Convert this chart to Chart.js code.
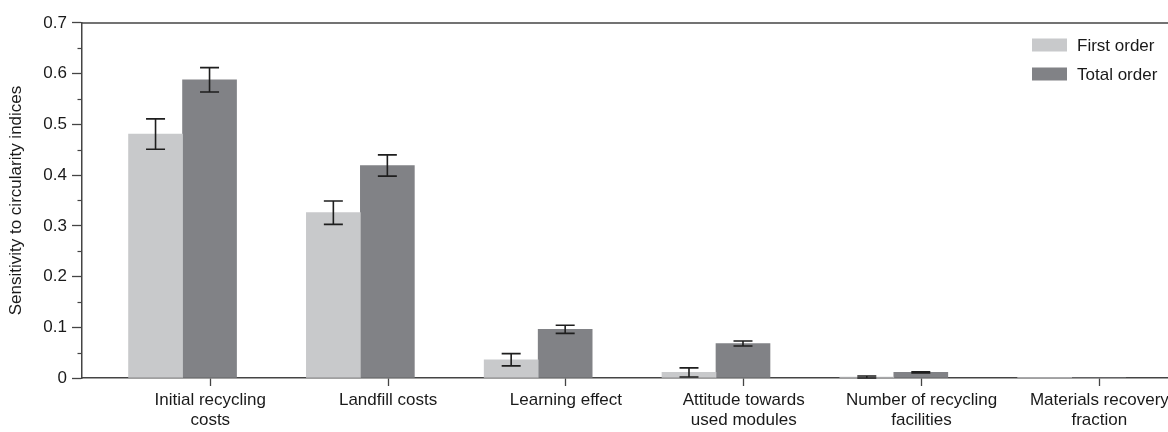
<!DOCTYPE html>
<html>
<head>
<meta charset="utf-8">
<script src="https://cdn.jsdelivr.net/npm/chart.js@4.4.1/dist/chart.umd.min.js"></script>
<style>
  html, body { margin: 0; padding: 0; background: #fff; }
  #wrap { width: 1168px; height: 432px; }
</style>
</head>
<body>
<div id="wrap"><canvas id="chart" width="1168" height="432"></canvas></div>
<script>
// Parameters (one per category)
const categories = [
  ["Initial recycling", "costs"],
  ["Landfill costs"],
  ["Learning effect"],
  ["Attitude towards", "used modules"],
  ["Number of recycling", "facilities"],
  ["Materials recovery", "fraction"]
];

// Sobol sensitivity indices with their uncertainty
const firstOrder     = [0.481, 0.326, 0.036, 0.011, 0.002, 0.0005];
const firstOrderErr  = [0.030, 0.023, 0.012, 0.009, 0.002, 0];
const totalOrder     = [0.588, 0.419, 0.096, 0.068, 0.011, 0.001];
const totalOrderErr  = [0.024, 0.021, 0.008, 0.005, 0.001, 0];

// Y axis labels (every 0.1, minor marks every 0.05)
const yTickLabels = ["0", "0.1", "0.2", "0.3", "0.4", "0.5", "0.6", "0.7"];

const seriesNames = ["First order", "Total order"];

const FONT = "'Liberation Sans', Arial, Helvetica, sans-serif";
const FONT_SIZE = 17;
const AXIS_COLOR = "#444";
const TEXT_COLOR = "#1a1a1a";
const LIGHT = "#c8c9cb";
const DARK = "#818286";
const GROUP_SHIFT = -0.156;   // bar pairs sit slightly left of their tick

const errorBars = {
  id: "errorBars",
  afterDatasetsDraw(chart) {
    const ctx = chart.ctx;
    const y = chart.scales.y;
    ctx.save();
    ctx.strokeStyle = "#1e1e1e";
    ctx.lineWidth = 1.6;
    chart.data.datasets.forEach((ds, di) => {
      const meta = chart.getDatasetMeta(di);
      meta.data.forEach((bar, i) => {
        const e = ds.errors[i];
        if (!e) return;
        const v = ds.data[i].y;
        const top = y.getPixelForValue(v + e);
        const bot = y.getPixelForValue(Math.max(v - e, 0));
        const half = 9.5;
        ctx.beginPath();
        ctx.moveTo(bar.x, top); ctx.lineTo(bar.x, bot);
        ctx.moveTo(bar.x - half, top); ctx.lineTo(bar.x + half, top);
        ctx.moveTo(bar.x - half, bot); ctx.lineTo(bar.x + half, bot);
        ctx.stroke();
      });
    });
    ctx.restore();
  }
};

const frameAndLegend = {
  id: "frameAndLegend",
  afterDraw(chart) {
    const ctx = chart.ctx;
    const area = chart.chartArea;
    const y = chart.scales.y;
    ctx.save();
    // top frame line
    ctx.strokeStyle = AXIS_COLOR;
    ctx.lineWidth = 1.5;
    ctx.beginPath();
    ctx.moveTo(area.left, area.top);
    ctx.lineTo(area.right, area.top);
    ctx.stroke();
    // minor y ticks
    ctx.lineWidth = 1.2;
    y.ticks.forEach(t => {
      const k = Math.round(t.value * 100);
      if (k % 10 !== 0) {
        const py = Math.round(y.getPixelForValue(t.value)) + 0.5;
        ctx.beginPath();
        ctx.moveTo(area.left - 4.5, py);
        ctx.lineTo(area.left, py);
        ctx.stroke();
      }
    });
    // legend
    ctx.font = FONT_SIZE + "px " + FONT;
    ctx.textBaseline = "middle";
    ctx.textAlign = "left";
    chart.data.datasets.forEach((ds, i) => {
      const cy = 45 + i * 29;
      ctx.fillStyle = ds.backgroundColor;
      ctx.fillRect(1032, cy - 6.5, 35, 13);
      ctx.fillStyle = TEXT_COLOR;
      ctx.fillText(ds.label, 1077, cy + 1);
    });
    ctx.restore();
  }
};

new Chart(document.getElementById("chart"), {
  type: "bar",
  data: {
    datasets: [
      {
        label: seriesNames[0],
        data: firstOrder.map((v, i) => ({ x: i + GROUP_SHIFT, y: v })),
        errors: firstOrderErr,
        backgroundColor: LIGHT,
        borderWidth: 0,
        barThickness: 54
      },
      {
        label: seriesNames[1],
        data: totalOrder.map((v, i) => ({ x: i + GROUP_SHIFT, y: v })),
        errors: totalOrderErr,
        backgroundColor: DARK,
        borderWidth: 0,
        barThickness: 54
      }
    ]
  },
  options: {
    responsive: false,
    animation: false,
    devicePixelRatio: 1,
    layout: { padding: { left: 0, right: 0, top: 23, bottom: 0 } },
    plugins: {
      legend: { display: false },
      tooltip: { enabled: false }
    },
    scales: {
      x: {
        type: "linear",
        offset: false,
        min: -0.7214,
        max: 5.386,
        afterBuildTicks(scale) {
          scale.ticks = categories.map((c, i) => ({ value: i }));
        },
        afterFit(scale) {
          scale.height = 54;
          scale.paddingLeft = 0;
          scale.paddingRight = 0;
        },
        border: { display: true, color: AXIS_COLOR, width: 1.5 },
        grid: {
          display: true,
          offset: false,
          drawOnChartArea: false,
          drawTicks: true,
          tickLength: 8,
          tickColor: AXIS_COLOR,
          tickWidth: 1.3
        },
        ticks: {
          autoSkip: false,
          maxRotation: 0,
          padding: 4,
          color: TEXT_COLOR,
          font: { family: FONT, size: FONT_SIZE, lineHeight: 1.18 },
          callback: (v) => categories[Math.round(v)]
        }
      },
      y: {
        min: 0,
        max: 0.7,
        afterBuildTicks(scale) {
          const ticks = [];
          for (let k = 0; k <= 14; k++) ticks.push({ value: k * 0.05 });
          scale.ticks = ticks;
        },
        afterFit(scale) {
          scale.width = 82;
        },
        border: { display: true, color: AXIS_COLOR, width: 1.5 },
        grid: {
          display: true,
          drawOnChartArea: false,
          drawTicks: true,
          tickLength: 10,
          tickWidth: 1.3,
          tickColor: (c) => (Math.round(c.tick.value * 100) % 10 === 0 ? AXIS_COLOR : "rgba(0,0,0,0)")
        },
        ticks: {
          autoSkip: false,
          padding: 5,
          color: TEXT_COLOR,
          font: { family: FONT, size: FONT_SIZE },
          callback: (v) => {
            const k = Math.round(v * 100);
            return k % 10 === 0 ? yTickLabels[k / 10] : "";
          }
        },
        title: {
          display: true,
          text: "Sensitivity to circularity indices",
          color: TEXT_COLOR,
          font: { family: FONT, size: FONT_SIZE },
          padding: { top: 6, bottom: 0 }
        }
      }
    }
  },
  plugins: [errorBars, frameAndLegend]
});
</script>
</body>
</html>
